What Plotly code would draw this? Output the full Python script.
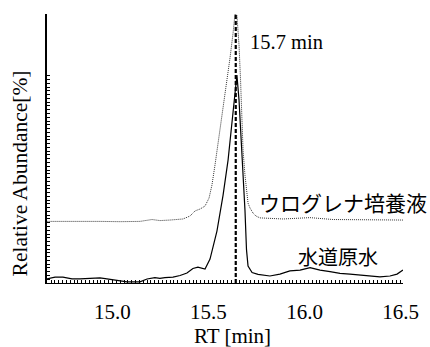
import plotly.graph_objects as go

# Lower trace: 水道原水 (solid)
rt_tap = [14.657, 14.701, 14.742, 14.789, 14.831, 14.883, 14.935, 14.971, 15.023, 15.076,
          15.143, 15.180, 15.221, 15.247, 15.273, 15.315, 15.352, 15.388, 15.419, 15.445,
          15.482, 15.508, 15.544, 15.576, 15.602, 15.622, 15.638, 15.648, 15.659, 15.672,
          15.682, 15.690, 15.698, 15.706, 15.727, 15.758, 15.820, 15.872, 15.924, 15.977,
          16.029, 16.081, 16.133, 16.185, 16.237, 16.289, 16.341, 16.393, 16.445, 16.482, 16.513]
ab_tap = [1.5, 2.2, 2.2, 1.5, 1.5, 1.7, 1.9, 1.5, 0.9, 0.4,
          0.4, 1.5, 2.0, 1.7, 2.0, 2.2, 2.8, 3.7, 5.4, 5.9,
          5.2, 8.9, 19.3, 32.7, 45.7, 60.6, 71.7, 77.3, 68.0, 51.3,
          40.1, 27.1, 12.3, 6.3, 3.9, 3.2, 2.6, 3.3, 4.5, 4.8,
          5.7, 4.8, 4.2, 3.6, 3.3, 3.0, 2.6, 2.3, 2.6, 3.3, 4.8]

# Upper trace: ウログレナ培養液 (dotted)
rt_uro = [14.657, 14.831, 14.935, 15.039, 15.143, 15.206, 15.247, 15.299, 15.367, 15.404,
          15.430, 15.456, 15.482, 15.503, 15.518, 15.534, 15.549, 15.570, 15.591, 15.612,
          15.628, 15.638, 15.648, 15.659, 15.667, 15.674, 15.680, 15.690, 15.699, 15.706,
          15.716, 15.732, 15.747, 15.768, 15.888, 15.977, 16.029, 16.148, 16.326, 16.513]
ab_uro = [22.9, 23.0, 22.9, 22.8, 22.9, 23.6, 23.2, 23.4, 23.8, 24.9,
          26.8, 27.5, 28.6, 31.6, 36.4, 43.9, 51.3, 61.3, 72.5, 83.6,
          92.9, 100.0, 99.6, 88.5, 75.5, 60.6, 49.4, 40.1, 33.5, 29.7,
          27.9, 26.0, 24.9, 24.2, 23.8, 24.2, 24.3, 23.6, 23.4, 23.4]

peak_rt = 15.642
y_span = [0, 100]
tick_vals = [15.0, 15.5, 16.0, 16.5]
tick_text = ["15.0", "15.5", "16.0", "16.5"]

serif = "Liberation Serif"
cjk = "Noto Sans CJK JP"

fig = go.Figure()
# helper trace for the partial y tick axis (drawn first, invisible)
fig.add_trace(go.Scatter(x=[peak_rt], y=[0], yaxis="y2", mode="markers",
                         marker=dict(opacity=0), showlegend=False, hoverinfo="skip"))
fig.add_trace(go.Scatter(x=rt_uro, y=ab_uro, mode="lines",
                         line=dict(color="#333333", width=1, dash="1px,1px"),
                         showlegend=False, hoverinfo="skip"))
fig.add_trace(go.Scatter(x=rt_tap, y=ab_tap, mode="lines",
                         line=dict(color="black", width=1.2),
                         showlegend=False, hoverinfo="skip"))
fig.add_trace(go.Scatter(x=[peak_rt, peak_rt], y=y_span, mode="lines",
                         line=dict(color="black", width=2.2, dash="4px,2px"),
                         showlegend=False, hoverinfo="skip", cliponaxis=False))

fig.update_layout(
    width=430, height=347,
    margin=dict(l=47, r=27, t=14, b=64),
    paper_bgcolor="white", plot_bgcolor="rgba(0,0,0,0)",
    font=dict(family=serif, size=21, color="black"),
    xaxis=dict(range=[14.659, 16.513], showgrid=False, zeroline=False,
               showline=True, linecolor="black", linewidth=1,
               tickmode="array", tickvals=tick_vals, ticktext=tick_text,
               ticks="inside", ticklen=3, tickcolor="black", tickwidth=1,
               ticklabelstandoff=10,
               minor=dict(dtick=0.02, tick0=14.0, ticks="inside", ticklen=3,
                          tickcolor="black", tickwidth=1, showgrid=False),
               tickfont=dict(family=serif, size=21, color="black")),
    yaxis=dict(range=[0, 100], showgrid=False, zeroline=False,
               showline=True, linecolor="black", linewidth=2,
               showticklabels=False, ticks=""),
    yaxis2=dict(domain=[0, 0.784], range=[0, 78.4], anchor="x",
                showgrid=False, zeroline=False, showline=False,
                showticklabels=False, ticks="inside", ticklen=3,
                tickcolor="black", tickwidth=1, dtick=1.4, tick0=0),
    annotations=[
        dict(text="15.7 min", x=15.706, y=89.6, xref="x", yref="y",
             xanchor="left", yanchor="middle", showarrow=False,
             font=dict(family=serif, size=20.5, color="black")),
        dict(text="ウログレナ培養液", x=16.201, y=30.1, xref="x", yref="y",
             xanchor="center", yanchor="middle", showarrow=False,
             font=dict(family=cjk, size=21, color="black")),
        dict(text="水道原水", x=16.172, y=9.7, xref="x", yref="y",
             xanchor="center", yanchor="middle", showarrow=False,
             font=dict(family=cjk, size=20, color="black")),
        dict(text="Relative Abundance[%]", x=-0.076, y=0.407, xref="paper", yref="paper",
             xanchor="center", yanchor="middle", textangle=-90, showarrow=False,
             font=dict(family=serif, size=21.5, color="black")),
        dict(text="RT [min]", x=0.52, y=-0.196, xref="paper", yref="paper",
             xanchor="center", yanchor="middle", showarrow=False,
             font=dict(family=serif, size=21, color="black")),
    ],
)

fig.write_html("out.html", config={"displayModeBar": False},
               post_script="document.body.style.margin='0';")
